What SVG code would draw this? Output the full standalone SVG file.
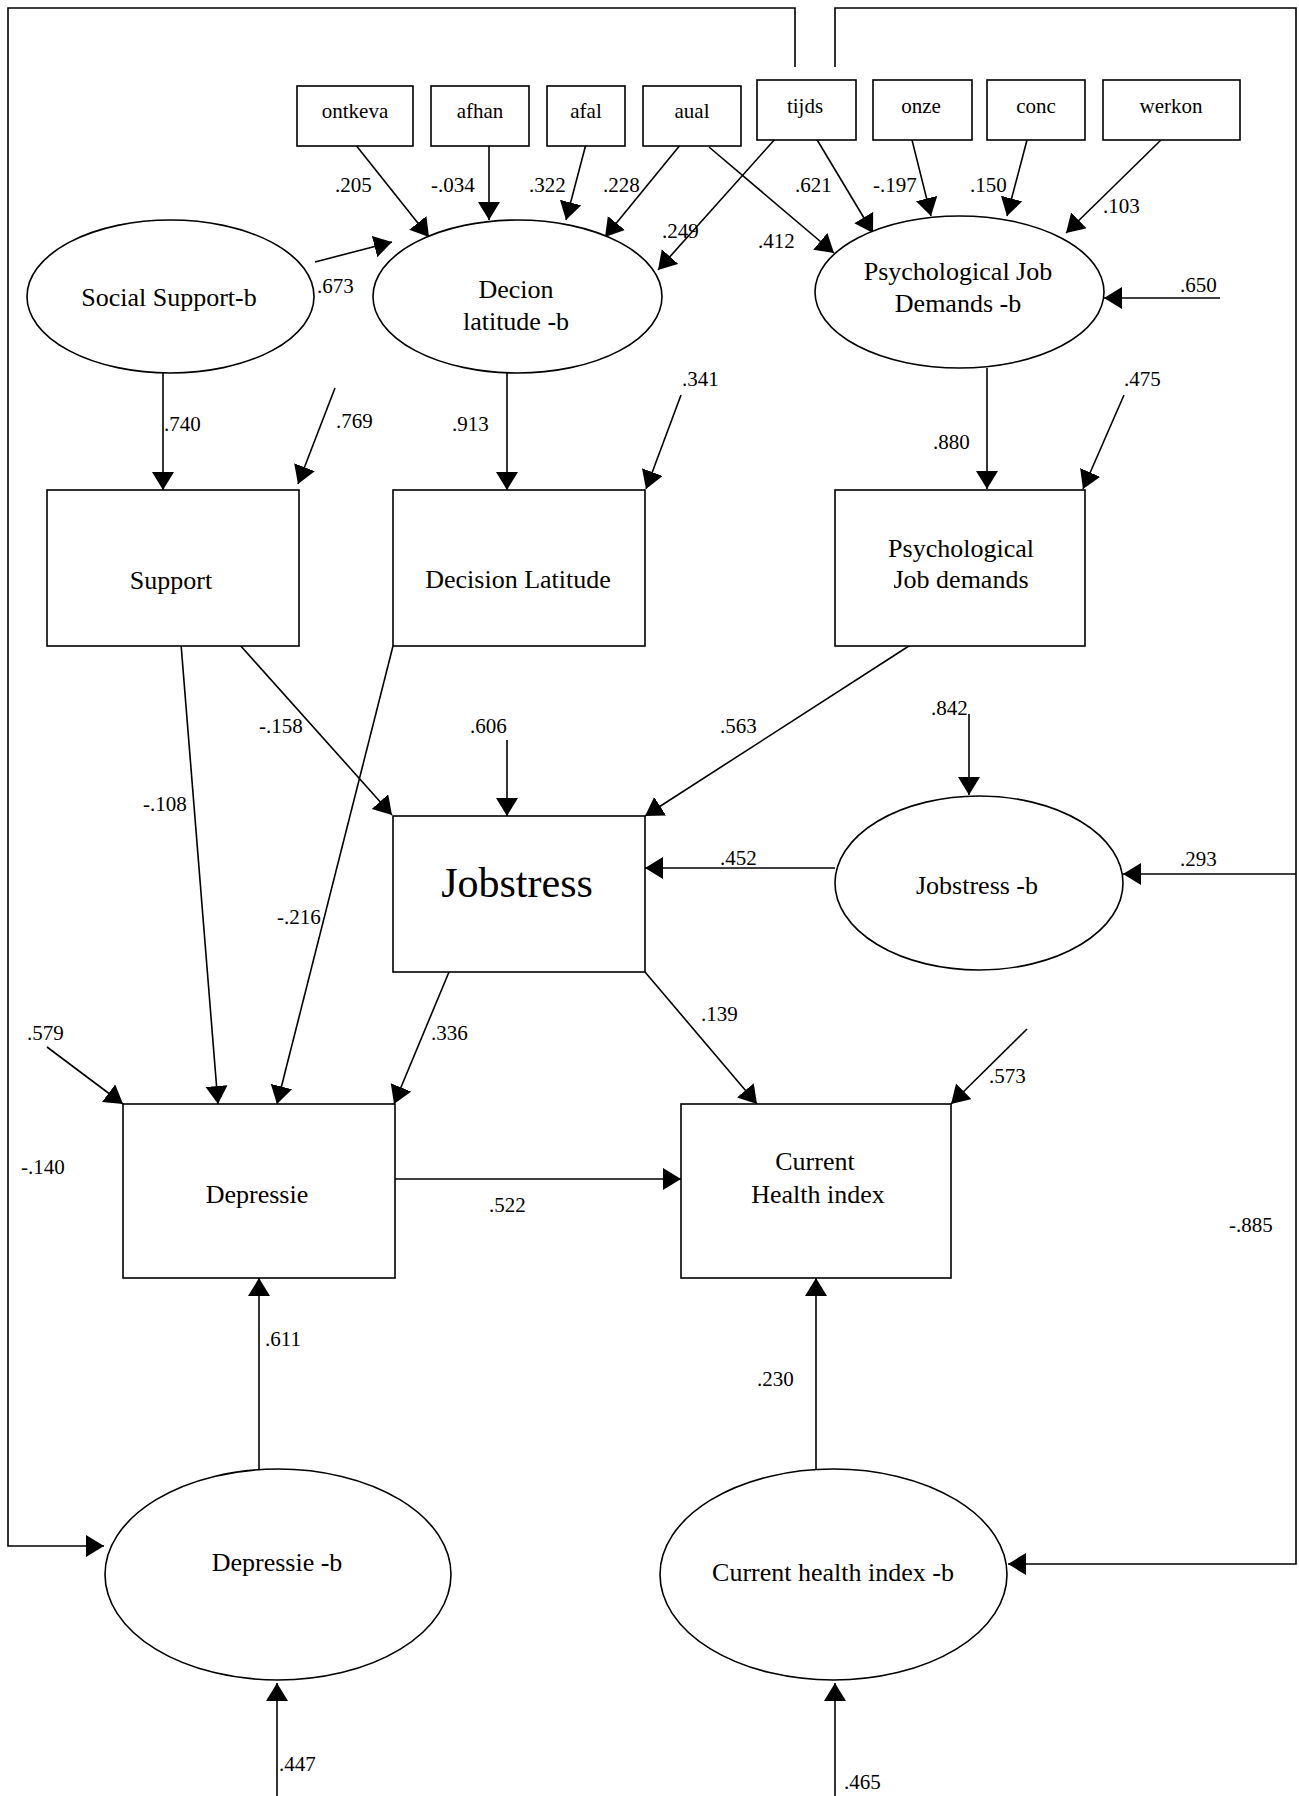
<svg xmlns="http://www.w3.org/2000/svg" width="1299" height="1796" viewBox="0 0 1299 1796">
  <style>
    .box { fill: #fff; stroke: #000; stroke-width: 1.6; }
    .ell { fill: #fff; stroke: #000; stroke-width: 1.6; }
    .edge { fill: none; stroke: #000; stroke-width: 1.6; }
    .arr { marker-end: url(#head); }
    text { font-family: "Liberation Serif", "Times New Roman", serif; fill: #000; }
    .lbl { font-size: 26px; text-anchor: middle; }
    .sm { font-size: 21px; text-anchor: middle; }
    .coef { font-size: 21px; }
  </style>
  <defs>
    <marker id="head" markerUnits="userSpaceOnUse" markerWidth="20" markerHeight="24" refX="18" refY="11" orient="auto">
      <path d="M0,0 L18,11 L0,22 z" fill="#000"/>
    </marker>
  </defs>
  <rect width="1299" height="1796" fill="#fff"/>

  <!-- connectors -->
  <g id="connectors">
    <!-- feedback loops along the frame -->
    <polyline class="edge arr" points="795,67 795,8 8,8 8,1546 104,1546"/>
    <polyline class="edge arr" points="835,67 835,8 1296,8 1296,1564 1008,1564"/>
    <line class="edge arr" x1="1296" y1="874" x2="1123" y2="874"/>
    <!-- indicators into latent factors -->
    <line class="edge arr" x1="355" y1="144" x2="429" y2="237"/>
    <line class="edge arr" x1="489" y1="146" x2="489" y2="220"/>
    <line class="edge arr" x1="586" y1="144" x2="566" y2="220"/>
    <line class="edge arr" x1="681" y1="144" x2="605" y2="237"/>
    <line class="edge arr" x1="709" y1="147" x2="834" y2="253"/>
    <line class="edge arr" x1="776" y1="138" x2="658" y2="270"/>
    <line class="edge arr" x1="816" y1="138" x2="873" y2="233"/>
    <line class="edge arr" x1="912" y1="140" x2="931" y2="216"/>
    <line class="edge arr" x1="1027" y1="140" x2="1007" y2="216"/>
    <line class="edge arr" x1="1161" y1="140" x2="1066" y2="233"/>
    <line class="edge arr" x1="315" y1="262" x2="392" y2="242"/>
    <line class="edge arr" x1="1220" y1="298" x2="1104" y2="298"/>
    <!-- latent factors to measured scales -->
    <line class="edge arr" x1="163" y1="373" x2="163" y2="490"/>
    <line class="edge arr" x1="335" y1="388" x2="298" y2="484"/>
    <line class="edge arr" x1="507" y1="373" x2="507" y2="490"/>
    <line class="edge arr" x1="681" y1="395" x2="646" y2="489"/>
    <line class="edge arr" x1="987" y1="368" x2="987" y2="489"/>
    <line class="edge arr" x1="1124" y1="395" x2="1083" y2="489"/>
    <!-- structural paths -->
    <line class="edge arr" x1="181" y1="644" x2="218" y2="1104"/>
    <line class="edge arr" x1="239" y1="644" x2="392" y2="815"/>
    <line class="edge arr" x1="393" y1="646" x2="277" y2="1104"/>
    <line class="edge arr" x1="507" y1="740" x2="507" y2="816"/>
    <line class="edge arr" x1="912" y1="644" x2="645" y2="816"/>
    <line class="edge arr" x1="969" y1="714" x2="969" y2="795"/>
    <line class="edge arr" x1="835" y1="868" x2="645" y2="868"/>
    <line class="edge arr" x1="449" y1="972" x2="394" y2="1104"/>
    <line class="edge arr" x1="645" y1="972" x2="757" y2="1104"/>
    <line class="edge arr" x1="47" y1="1047" x2="123" y2="1104"/>
    <line class="edge arr" x1="1027" y1="1029" x2="951" y2="1104"/>
    <line class="edge arr" x1="393" y1="1179" x2="681" y2="1179"/>
    <line class="edge arr" x1="259" y1="1469" x2="259" y2="1278"/>
    <line class="edge arr" x1="816" y1="1469" x2="816" y2="1278"/>
    <line class="edge arr" x1="277" y1="1796" x2="277" y2="1683"/>
    <line class="edge arr" x1="835" y1="1796" x2="835" y2="1683"/>
  </g>

  <!-- coefficient labels -->
  <g id="coefficients" class="coef">
    <text x="335" y="192">.205</text>
    <text x="431" y="192">-.034</text>
    <text x="529" y="192">.322</text>
    <text x="603" y="192">.228</text>
    <text x="662" y="238">.249</text>
    <text x="758" y="248">.412</text>
    <text x="795" y="192">.621</text>
    <text x="873" y="192">-.197</text>
    <text x="970" y="192">.150</text>
    <text x="1103" y="213">.103</text>
    <text x="317" y="293">.673</text>
    <text x="1180" y="292">.650</text>
    <text x="682" y="386">.341</text>
    <text x="1124" y="386">.475</text>
    <text x="164" y="431">.740</text>
    <text x="336" y="428">.769</text>
    <text x="452" y="431">.913</text>
    <text x="933" y="449">.880</text>
    <text x="259" y="733">-.158</text>
    <text x="470" y="733">.606</text>
    <text x="720" y="733">.563</text>
    <text x="931" y="715">.842</text>
    <text x="143" y="811">-.108</text>
    <text x="720" y="865">.452</text>
    <text x="1180" y="866">.293</text>
    <text x="277" y="924">-.216</text>
    <text x="27" y="1040">.579</text>
    <text x="431" y="1040">.336</text>
    <text x="701" y="1021">.139</text>
    <text x="989" y="1083">.573</text>
    <text x="21" y="1174">-.140</text>
    <text x="489" y="1212">.522</text>
    <text x="1229" y="1232">-.885</text>
    <text x="265" y="1346">.611</text>
    <text x="757" y="1386">.230</text>
    <text x="279" y="1771">.447</text>
    <text x="844" y="1789">.465</text>
  </g>

  <!-- observed items -->
  <g id="ontkeva"><rect class="box" x="297" y="86" width="116" height="60"/><text class="sm" x="355" y="118">ontkeva</text></g>
  <g id="afhan"><rect class="box" x="431" y="86" width="98" height="60"/><text class="sm" x="480" y="118">afhan</text></g>
  <g id="afal"><rect class="box" x="547" y="86" width="78" height="60"/><text class="sm" x="586" y="118">afal</text></g>
  <g id="aual"><rect class="box" x="643" y="86" width="98" height="60"/><text class="sm" x="692" y="118">aual</text></g>
  <g id="tijds"><rect class="box" x="757" y="80" width="99" height="60"/><text class="sm" x="805" y="113">tijds</text></g>
  <g id="onze"><rect class="box" x="873" y="80" width="99" height="60"/><text class="sm" x="921" y="113">onze</text></g>
  <g id="conc"><rect class="box" x="987" y="80" width="98" height="60"/><text class="sm" x="1036" y="113">conc</text></g>
  <g id="werkon"><rect class="box" x="1103" y="80" width="137" height="60"/><text class="sm" x="1171" y="113">werkon</text></g>

  <!-- latent factors -->
  <g id="social-support-b"><ellipse class="ell" cx="170.5" cy="296.5" rx="143.5" ry="76.5"/><text class="lbl" x="169" y="306">Social Support-b</text></g>
  <g id="decion-latitude-b"><ellipse class="ell" cx="517.5" cy="296.5" rx="144.5" ry="76.5"/><text class="lbl" x="516" y="298">Decion</text><text class="lbl" x="516" y="330">latitude -b</text></g>
  <g id="job-demands-b"><ellipse class="ell" cx="959.5" cy="292" rx="144.5" ry="76"/><text class="lbl" x="958" y="280">Psychological Job</text><text class="lbl" x="958" y="312">Demands -b</text></g>

  <!-- measured scales -->
  <g id="support"><rect class="box" x="47" y="490" width="252" height="156"/><text class="lbl" x="171" y="589">Support</text></g>
  <g id="decision-latitude"><rect class="box" x="393" y="490" width="252" height="156"/><text class="lbl" x="518" y="588">Decision Latitude</text></g>
  <g id="job-demands"><rect class="box" x="835" y="490" width="250" height="156"/><text class="lbl" x="961" y="557">Psychological</text><text class="lbl" x="961" y="588">Job demands</text></g>

  <g id="jobstress"><rect class="box" x="393" y="816" width="252" height="156"/><text x="517" y="897" font-size="42" text-anchor="middle">Jobstress</text></g>
  <g id="jobstress-b"><ellipse class="ell" cx="979" cy="883" rx="144" ry="87"/><text class="lbl" x="977" y="894">Jobstress -b</text></g>

  <g id="depressie"><rect class="box" x="123" y="1104" width="272" height="174"/><text class="lbl" x="257" y="1203">Depressie</text></g>
  <g id="current-health-index"><rect class="box" x="681" y="1104" width="270" height="174"/><text class="lbl" x="815" y="1170">Current</text><text class="lbl" x="818" y="1203">Health index</text></g>

  <g id="depressie-b"><ellipse class="ell" cx="278" cy="1574.5" rx="173" ry="105.5"/><text class="lbl" x="277" y="1571">Depressie -b</text></g>
  <g id="current-health-index-b"><ellipse class="ell" cx="833.5" cy="1574.5" rx="173.5" ry="105.5"/><text class="lbl" x="833" y="1581">Current health index -b</text></g>
</svg>
